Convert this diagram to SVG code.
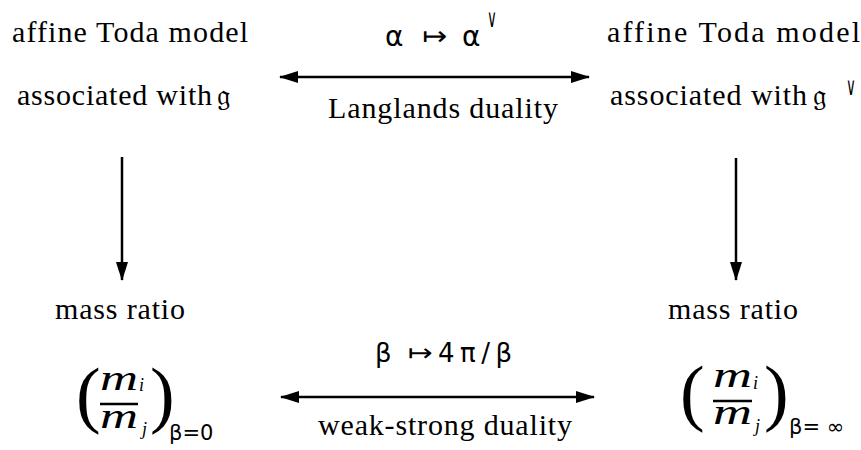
<svg xmlns="http://www.w3.org/2000/svg" width="861" height="450" viewBox="0 0 861 450">
<style>
.t{font-family:"Liberation Serif","Times New Roman",serif;font-size:30px;fill:#000}
.s{font-family:"DejaVu Sans","Liberation Sans",sans-serif;fill:#000}
.mi{font-family:"Liberation Serif","Times New Roman",serif;font-style:italic;fill:#000}
.p{font-family:"Liberation Serif","Times New Roman",serif;font-size:74px;fill:#000}
.c{stroke:#000;stroke-width:2.5;fill:none}
.bar{stroke:#000;stroke-width:2.5}
</style>
<defs>
<marker id="ah" markerUnits="userSpaceOnUse" markerWidth="20" markerHeight="12" refX="18" refY="6" orient="auto-start-reverse">
<path d="M0,0 L19,6 L0,12 Z" fill="#000"/>
</marker>
</defs>
<rect width="861" height="450" fill="#fff"/>
<g id="connectors">
<line class="c" x1="280" y1="77" x2="589" y2="77" marker-start="url(#ah)" marker-end="url(#ah)"/>
<line class="c" x1="281" y1="397" x2="594" y2="397" marker-start="url(#ah)" marker-end="url(#ah)"/>
<line class="c" x1="122" y1="157" x2="122" y2="280" marker-end="url(#ah)"/>
<line class="c" x1="736" y1="158" x2="736" y2="280" marker-end="url(#ah)"/>
</g>
<g id="label-langlands">
<text class="s" font-size="28" x="385" y="46">α</text>
<text class="s" font-size="26" x="422" y="45" textLength="25" lengthAdjust="spacingAndGlyphs">↦</text>
<text class="s" font-size="28" x="462" y="46">α</text>
<text class="s" font-size="18" x="0" y="0" transform="translate(487,27) scale(0.75,1.4)">∨</text>
<text class="t" x="328" y="118" textLength="230" lengthAdjust="spacing">Langlands duality</text>
</g>
<g id="label-weakstrong">
<text class="s" font-size="26" x="375" y="362">β</text>
<text class="s" font-size="24" x="408" y="361" textLength="25" lengthAdjust="spacingAndGlyphs">↦</text>
<text class="s" font-size="26" x="438" y="362" textLength="74" lengthAdjust="spacing">4π/β</text>
<text class="t" x="318" y="435" textLength="254" lengthAdjust="spacing">weak-strong duality</text>
</g>
<g id="node-toda-g">
<text class="t" x="12" y="42" textLength="236" lengthAdjust="spacing">affine Toda model</text>
<text class="t" x="17" y="105" textLength="195" lengthAdjust="spacing">associated with</text>
<text class="t" x="217" y="105">𝔤</text>
</g>
<g id="node-toda-gdual">
<text class="t" x="607" y="42" textLength="253" lengthAdjust="spacing">affine Toda model</text>
<text class="t" x="610" y="105" textLength="197" lengthAdjust="spacing">associated with</text>
<text class="t" x="813" y="105">𝔤</text>
<text class="s" font-size="18" x="0" y="0" transform="translate(846,95) scale(0.75,1.4)">∨</text>
</g>
<g id="node-mass-0">
<text class="t" x="55" y="319" textLength="130" lengthAdjust="spacing">mass ratio</text>
<text class="p" x="76" y="419">(</text>
<text class="mi" font-size="36" x="100" y="390" textLength="38" lengthAdjust="spacingAndGlyphs">m</text>
<text class="mi" font-size="18" x="139" y="391">i</text>
<line class="bar" x1="100" y1="404" x2="138" y2="404"/>
<text class="mi" font-size="36" x="100" y="428" textLength="38" lengthAdjust="spacingAndGlyphs">m</text>
<text class="mi" font-size="18" x="142" y="435">j</text>
<text class="p" x="150" y="419">)</text>
<text class="s" font-size="21" x="169" y="440">β=0</text>
</g>
<g id="node-mass-inf">
<text class="t" x="668" y="319" textLength="130" lengthAdjust="spacing">mass ratio</text>
<text class="p" x="680" y="417">(</text>
<text class="mi" font-size="36" x="713" y="387" textLength="39" lengthAdjust="spacingAndGlyphs">m</text>
<text class="mi" font-size="18" x="753" y="389">i</text>
<line class="bar" x1="713" y1="401" x2="752" y2="401"/>
<text class="mi" font-size="36" x="713" y="424" textLength="39" lengthAdjust="spacingAndGlyphs">m</text>
<text class="mi" font-size="18" x="755" y="432">j</text>
<text class="p" x="764" y="417">)</text>
<text class="s" font-size="21" x="789" y="434">β= ∞</text>
</g>
</svg>
